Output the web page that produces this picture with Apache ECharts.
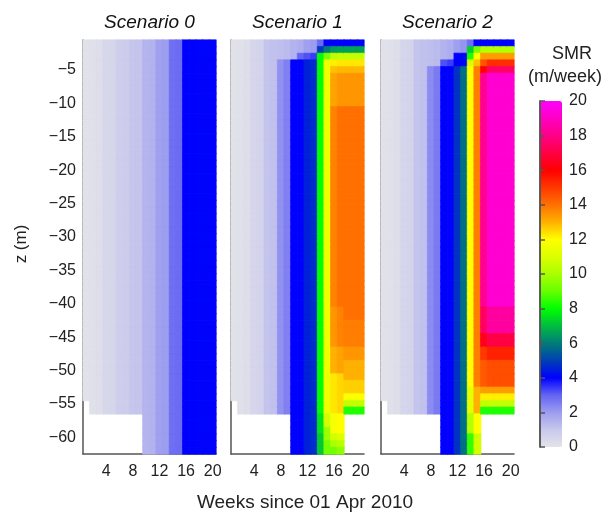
<!DOCTYPE html>
<html>
<head>
<meta charset="utf-8">
<script src="https://cdn.jsdelivr.net/npm/echarts@6/dist/echarts.min.js"></script>
<style>
  html, body { margin: 0; padding: 0; background: #fff; }
  #smr-chart { width: 608px; height: 513px; }
</style>
</head>
<body>
<div id="smr-chart"></div>
<script>
// weeks on x, depth (m) on y
let weeks = [1, 2, 3, 4, 5, 6, 7, 8, 9, 10, 11, 12, 13, 14, 15, 16, 17, 18, 19, 20];
let depths = Array.from({ length: 62 }, (_, i) => -(i + 1));
let weekTicks = [4, 8, 12, 16, 20];
let depthTicks = [-5, -10, -15, -20, -25, -30, -35, -40, -45, -50, -55, -60];
let titles = ['Scenario 0', 'Scenario 1', 'Scenario 2'];

// each week column: runs of [SMR value, number of 1 m cells] from the top, null = no data
let scenario0 = [
  [[0.1, 54], [null, 8]],
  [[0.15, 56], [null, 6]],
  [[0.2, 56], [null, 6]],
  [[0.45, 56], [null, 6]],
  [[0.5, 56], [null, 6]],
  [[0.8, 56], [null, 6]],
  [[0.85, 56], [null, 6]],
  [[1.05, 56], [null, 6]],
  [[1.1, 56], [null, 6]],
  [[1.45, 62]],
  [[1.5, 62]],
  [[1.9, 62]],
  [[1.95, 62]],
  [[2.8, 62]],
  [[2.85, 62]],
  [[4.0, 62]],
  [[4.0, 62]],
  [[4.05, 62]],
  [[4.05, 62]],
  [[4.05, 62]]
];

let scenario1 = [
  [[0.1, 54], [null, 8]],
  [[0.15, 56], [null, 6]],
  [[0.2, 56], [null, 6]],
  [[0.55, 56], [null, 6]],
  [[0.6, 56], [null, 6]],
  [[1.1, 56], [null, 6]],
  [[1.15, 56], [null, 6]],
  [[1.2, 3], [2.2, 53], [null, 6]],
  [[1.3, 3], [2.5, 53], [null, 6]],
  [[1.5, 3], [4.0, 59]],
  [[1.6, 2], [3.0, 1], [4.0, 59]],
  [[1.9, 2], [3.2, 1], [4.5, 59]],
  [[2.0, 2], [3.4, 1], [4.7, 59]],
  [[2.9, 1], [4.9, 1], [8.0, 54], [7.6, 3], [7.2, 3]],
  [[4.0, 1], [6.0, 1], [9.3, 1], [11.5, 53], [10.8, 2], [9.8, 2], [9.2, 2]],
  [[4.0, 1], [6.5, 1], [10.4, 1], [12.2, 1], [12.8, 1], [13.2, 5], [13.7, 30], [13.4, 6], [13.0, 4], [12.3, 6], [11.8, 3], [10.8, 1], [10.0, 1], [9.2, 1]],
  [[4.0, 1], [6.6, 1], [10.5, 1], [12.3, 1], [12.9, 1], [13.4, 5], [14.0, 30], [13.7, 6], [13.2, 4], [12.5, 6], [12.0, 3], [11.0, 1], [10.3, 1], [9.6, 1]],
  [[4.0, 1], [6.6, 1], [10.5, 1], [12.3, 1], [12.9, 1], [13.4, 5], [14.0, 32], [13.8, 4], [13.4, 2], [13.0, 3], [12.6, 2], [11.9, 1], [10.5, 1], [8.3, 1], [null, 6]],
  [[4.0, 1], [6.6, 1], [10.5, 1], [12.3, 1], [12.9, 1], [13.4, 5], [14.0, 32], [13.8, 4], [13.4, 2], [13.0, 3], [12.6, 2], [11.9, 1], [10.5, 1], [8.3, 1], [null, 6]],
  [[4.0, 1], [6.6, 1], [10.5, 1], [12.3, 1], [12.9, 1], [13.4, 5], [14.0, 32], [13.8, 4], [13.4, 2], [13.0, 3], [12.6, 2], [11.9, 1], [10.5, 1], [8.3, 1], [null, 6]]
];

let scenario2 = [
  [[0.1, 54], [null, 8]],
  [[0.15, 56], [null, 6]],
  [[0.2, 56], [null, 6]],
  [[0.55, 56], [null, 6]],
  [[0.6, 56], [null, 6]],
  [[1.1, 56], [null, 6]],
  [[1.15, 56], [null, 6]],
  [[1.2, 4], [2.3, 52], [null, 6]],
  [[1.3, 4], [2.6, 52], [null, 6]],
  [[1.5, 3], [3.2, 1], [4.0, 58]],
  [[1.6, 3], [3.4, 1], [4.0, 58]],
  [[1.9, 2], [4.0, 2], [4.8, 58]],
  [[2.1, 2], [4.1, 2], [5.8, 58]],
  [[2.8, 1], [7.3, 1], [8.3, 1], [11.0, 1], [12.0, 48], [11.2, 4], [10.2, 3], [8.5, 3]],
  [[4.0, 1], [9.3, 1], [12.0, 1], [12.8, 1], [13.8, 48], [13.0, 4], [12.0, 3], [10.8, 3]],
  [[4.0, 1], [10.2, 1], [13.3, 1], [14.5, 1], [16.0, 1], [18.2, 35], [17.4, 4], [16.4, 2], [15.0, 2], [14.4, 4], [13.3, 1], [12.2, 1], [10.5, 1], [8.3, 1], [null, 6]],
  [[4.0, 1], [10.2, 1], [13.3, 1], [15.2, 1], [17.5, 1], [19.2, 35], [18.4, 4], [17.0, 2], [15.4, 2], [14.6, 4], [13.3, 1], [12.2, 1], [10.5, 1], [8.3, 1], [null, 6]],
  [[4.0, 1], [10.2, 1], [13.3, 1], [15.2, 1], [17.5, 1], [19.2, 35], [18.4, 4], [17.0, 2], [15.4, 2], [14.6, 4], [13.3, 1], [12.2, 1], [10.5, 1], [8.3, 1], [null, 6]],
  [[4.0, 1], [10.2, 1], [13.3, 1], [15.2, 1], [17.5, 1], [19.2, 35], [18.4, 4], [17.0, 2], [15.4, 2], [14.6, 4], [13.3, 1], [12.2, 1], [10.5, 1], [8.3, 1], [null, 6]],
  [[4.0, 1], [10.2, 1], [13.3, 1], [15.2, 1], [17.5, 1], [19.2, 35], [18.4, 4], [17.0, 2], [15.4, 2], [14.6, 4], [13.3, 1], [12.2, 1], [10.5, 1], [8.3, 1], [null, 6]]
];

// colour scale 0..20 m/week
let smrMin = 0;
let smrMax = 20;
let smrColors = [
  '#e4e4ea', '#c8c8ec', '#9c9cf0', '#6464f4', '#0000ff', '#0040b4', '#007c78',
  '#00bc40', '#00ff00', '#66ff00', '#aaff00', '#dcff00', '#ffff00', '#ffb000',
  '#ff7000', '#ff3800', '#ff0000', '#ff0044', '#ff0088', '#ff00c4', '#ff00ff'
];

// cells get their colour from the same scale; border in the same colour hides seams
function toCells(columns) {
  let cells = [];
  columns.forEach((runs, xi) => {
    let yi = 0;
    runs.forEach(([v, n]) => {
      for (let k = 0; k < n; k++) {
        if (v !== null) {
          let c = echarts.color.lerp((v - smrMin) / (smrMax - smrMin), smrColors);
          cells.push({ value: [xi, yi, v], itemStyle: { color: c, borderColor: c, borderWidth: 0.6 } });
        }
        yi++;
      }
    });
  });
  return cells;
}

let font = 'Liberation Sans, Arial, sans-serif';
let axisColor = '#555';
let textColor = '#222';
let panelLeft = [83, 231, 381];
let panelWidth = 133;
let panelTop = 40;
let panelHeight = 414;
let minus = s => String(s).replace('-', '\u2212');

let grids = [], xAxes = [], yAxes = [], series = [], texts = [];
[scenario0, scenario1, scenario2].forEach((cols, p) => {
  grids.push({ left: panelLeft[p], top: panelTop, width: panelWidth, height: panelHeight });
  xAxes.push({
    type: 'category',
    gridIndex: p,
    data: weeks,
    boundaryGap: true,
    axisLine: { lineStyle: { color: axisColor, width: 1.5 } },
    axisTick: {
      alignWithLabel: true,
      length: 5,
      interval: (i, v) => weekTicks.includes(+v),
      lineStyle: { color: axisColor, width: 1.5 }
    },
    axisLabel: {
      interval: (i, v) => weekTicks.includes(+v),
      color: textColor,
      fontSize: 16,
      fontFamily: font,
      margin: 10
    },
    splitLine: { show: false }
  });
  yAxes.push({
    type: 'category',
    gridIndex: p,
    data: depths,
    inverse: true,
    boundaryGap: true,
    axisLine: { lineStyle: { color: axisColor, width: 1.5 } },
    axisTick: {
      alignWithLabel: true,
      length: 5,
      interval: (i, v) => depthTicks.includes(+v),
      lineStyle: { color: axisColor, width: 1.5 }
    },
    axisLabel: {
      show: p === 0,
      interval: (i, v) => depthTicks.includes(+v),
      formatter: v => minus(v),
      color: textColor,
      fontSize: 16,
      fontFamily: font,
      margin: 7
    },
    splitLine: { show: false }
  });
  series.push({
    type: 'heatmap',
    xAxisIndex: p,
    yAxisIndex: p,
    data: toCells(cols),
    progressive: 0,
    emphasis: { disabled: true }
  });
  texts.push({
    type: 'text',
    x: panelLeft[p] + panelWidth / 2,
    y: 23,
    style: {
      text: titles[p], fontSize: 19, fontStyle: 'italic', fontFamily: font, fill: '#111',
      align: 'center', verticalAlign: 'middle'
    }
  });
});

// colour bar axis
grids.push({ left: 540, top: 101, width: 22, height: 346 });
xAxes.push({ type: 'value', gridIndex: 3, show: false, min: 0, max: 1 });
yAxes.push({
  type: 'value',
  gridIndex: 3,
  min: smrMin,
  max: smrMax,
  interval: 2,
  position: 'right',
  z: 10,
  axisLine: { show: true, lineStyle: { color: axisColor, width: 1.5 } },
  axisTick: { show: true, length: 5, lineStyle: { color: axisColor, width: 1.5 } },
  axisLabel: { color: textColor, fontSize: 16, fontFamily: font, margin: 7 },
  splitLine: { show: false }
});
yAxes.push({
  type: 'value',
  gridIndex: 3,
  min: smrMin,
  max: smrMax,
  position: 'left',
  z: 10,
  axisLine: { show: true, lineStyle: { color: axisColor, width: 1.5 } },
  axisTick: { show: false },
  axisLabel: { show: false },
  splitLine: { show: false }
});

texts.push(
  { type: 'text', x: 572, y: 54, style: { text: 'SMR', fontSize: 18, fontFamily: font, fill: textColor, align: 'center', verticalAlign: 'middle' } },
  { type: 'text', x: 565, y: 77, style: { text: '(m/week)', fontSize: 18, fontFamily: font, fill: textColor, align: 'center', verticalAlign: 'middle' } },
  { type: 'text', x: 305, y: 503, style: { text: 'Weeks since 01 Apr 2010', fontSize: 19, fontFamily: font, fill: textColor, align: 'center', verticalAlign: 'middle' } },
  { type: 'text', x: 21, y: 244, rotation: Math.PI / 2, style: { text: 'z (m)', fontSize: 17, fontFamily: font, fill: textColor, align: 'center', verticalAlign: 'middle' } }
);

let smrChart = echarts.init(document.getElementById('smr-chart'));
let option = {
  animation: false,
  textStyle: { fontFamily: font },
  grid: grids,
  xAxis: xAxes,
  yAxis: yAxes,
  visualMap: {
    type: 'continuous',
    min: smrMin,
    max: smrMax,
    seriesIndex: [],
    calculable: false,
    hoverLink: false,
    left: 540,
    top: 101,
    padding: 0,
    itemWidth: 22,
    itemHeight: 346,
    text: null,
    inRange: { color: smrColors }
  },
  graphic: texts,
  series: series
};
smrChart.setOption(option);
</script>
</body>
</html>
